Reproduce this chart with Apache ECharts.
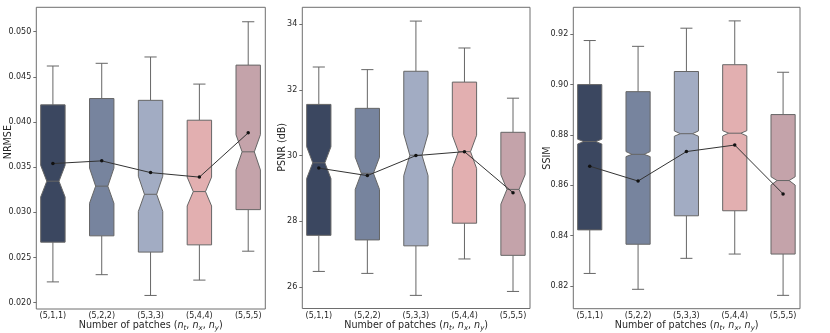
<!DOCTYPE html>
<html>
<head>
<meta charset="utf-8">
<script src="https://cdn.jsdelivr.net/npm/echarts@6/dist/echarts.min.js"></script>
<style>
html,body{margin:0;padding:0;background:#fff;}
#chart{width:830px;height:333px;}
</style>
</head>
<body>
<div id="chart"></div>
<script>
// ---------- data ----------
const categories = ['(5,1,1)', '(5,2,2)', '(5,3,3)', '(5,4,4)', '(5,5,5)'];
// each row: [whiskerLow, q1, notchLow, median, notchHigh, q3, whiskerHigh]
const nrmseStats = [
  [0.0223, 0.0267, 0.0317, 0.03345, 0.0352, 0.0419, 0.0462],
  [0.0231, 0.0274, 0.0310, 0.0329, 0.0349, 0.0426, 0.0465],
  [0.0208, 0.0256, 0.0301, 0.0320, 0.0340, 0.0424, 0.0472],
  [0.0225, 0.0264, 0.0307, 0.0323, 0.0339, 0.0402, 0.0442],
  [0.0257, 0.0303, 0.0347, 0.0367, 0.0386, 0.0463, 0.0511]
];
const nrmseMean = [0.0354, 0.0357, 0.0344, 0.0339, 0.0388];
const psnrStats = [
  [26.47, 27.57, 29.30, 29.78, 30.27, 31.56, 32.70],
  [26.41, 27.43, 28.97, 29.46, 29.95, 31.44, 32.62],
  [25.74, 27.25, 29.39, 30.01, 30.66, 32.57, 34.10],
  [26.85, 27.94, 29.61, 30.12, 30.62, 32.24, 33.28],
  [25.86, 26.96, 28.52, 28.97, 29.42, 30.71, 31.75]
];
const psnrMean = [29.62, 29.39, 30.00, 30.12, 28.87];
const ssimStats = [
  [0.8250, 0.8423, 0.8764, 0.8774, 0.8783, 0.9000, 0.9175],
  [0.8187, 0.8366, 0.8714, 0.8723, 0.8734, 0.8972, 0.9152],
  [0.8310, 0.8479, 0.8795, 0.8805, 0.8816, 0.9052, 0.9224],
  [0.8327, 0.8499, 0.8796, 0.8807, 0.8817, 0.9079, 0.9253],
  [0.8163, 0.8327, 0.8601, 0.8619, 0.8634, 0.8881, 0.9049]
];
const ssimMean = [0.8676, 0.8617, 0.8734, 0.8760, 0.8566];
const nrmseTicks = [0.020, 0.025, 0.030, 0.035, 0.040, 0.045, 0.050];
const psnrTicks = [26, 28, 30, 32, 34];
const ssimTicks = [0.82, 0.84, 0.86, 0.88, 0.90, 0.92];
const xTicks = [0, 1, 2, 3, 4];

// ---------- styles ----------
const boxColors = ['#3b4760', '#77849e', '#a2acc3', '#e2afb0', '#c4a3aa'];
const edgeColor = '#666666';
const textColor = '#262626';
const font = 'DejaVu Sans';

const chart = echarts.init(document.getElementById('chart'), null, {renderer: 'canvas'});

function renderBox(params, api) {
  const x = api.value(0);
  const lo = api.value(1), q1 = api.value(2), nlo = api.value(3), med = api.value(4),
        nhi = api.value(5), q3 = api.value(6), hi = api.value(7);
  const hw = 0.25, nw = 0.125, cw = 0.125;
  const P = (dx, v) => api.coord([x + dx, v]);
  const ls = {stroke: edgeColor, lineWidth: 1};
  const line = (a, b) => ({type: 'line', shape: {x1: a[0], y1: a[1], x2: b[0], y2: b[1]}, style: ls});
  const pts = [P(-hw, q1), P(-hw, nlo), P(-nw, med), P(-hw, nhi), P(-hw, q3),
               P(hw, q3), P(hw, nhi), P(nw, med), P(hw, nlo), P(hw, q1)];
  return {
    type: 'group',
    children: [
      line(P(0, q1), P(0, lo)),
      line(P(0, q3), P(0, hi)),
      line(P(-cw, lo), P(cw, lo)),
      line(P(-cw, hi), P(cw, hi)),
      {type: 'polygon', shape: {points: pts},
       style: {fill: boxColors[params.dataIndex], stroke: edgeColor, lineWidth: 1}},
      line(P(-nw, med), P(nw, med))
    ]
  };
}

const grids = [
  {left: 36.3, top: 7.3, width: 229, height: 301.7},
  {left: 302.3, top: 7.3, width: 227.7, height: 301.2},
  {left: 573.3, top: 7.3, width: 226.7, height: 301.4}
].map(g => Object.assign({show: true, borderColor: '#6e6e6e', borderWidth: 1, backgroundColor: '#fff',
  containLabel: false, outerBoundsMode: 'none'}, g));

const xName = '{a|Number of patches (}{i|n}{s|t}{a|, }{i|n}{s|x}{a|, }{i|n}{s|y}{a|)}';
const xRich = {
  a: {fontFamily: font, fontSize: 9.6, color: textColor},
  i: {fontFamily: font, fontSize: 9.6, fontStyle: 'italic', color: textColor},
  s: {fontFamily: font, fontSize: 7, fontStyle: 'italic', color: textColor, padding: [6, 0, 0, 0]}
};

const xAxes = [0, 1, 2].map(i => ({
  type: 'value', gridIndex: i, min: -0.34, max: 4.35,
  axisLine: {show: false, onZero: false}, axisTick: {show: false}, splitLine: {show: false},
  axisLabel: {customValues: xTicks, formatter: v => categories[Math.round(v)],
              fontFamily: font, fontSize: 8, color: textColor, margin: 3},
  name: xName, nameLocation: 'middle', nameGap: 10, nameMoveOverlap: false,
  nameTextStyle: {rich: xRich}
}));

const yCfg = [
  {ticks: nrmseTicks, min: 0.0193, max: 0.0527, fmt: v => v.toFixed(3), name: 'NRMSE', gap: 23, pad: [0, 0, 0, 32]},
  {ticks: psnrTicks, min: 25.34, max: 34.52, fmt: v => String(Math.round(v)), name: 'PSNR (dB)', gap: 15, pad: [0, 0, 0, 21]},
  {ticks: ssimTicks, min: 0.811, max: 0.9307, fmt: v => v.toFixed(2), name: 'SSIM', gap: 20.5, pad: [0, 0, 0, 0]}
];
const yAxes = yCfg.map((c, i) => ({
  type: 'value', gridIndex: i, min: c.min, max: c.max,
  axisLine: {show: false, onZero: false}, splitLine: {show: false},
  axisTick: {show: true, inside: false, customValues: c.ticks, length: 3, lineStyle: {color: '#6e6e6e'}},
  axisLabel: {customValues: c.ticks, formatter: c.fmt, fontFamily: font, fontSize: 8, color: textColor, margin: 5},
  name: c.name, nameLocation: 'middle', nameGap: c.gap, nameMoveOverlap: false,
  nameTextStyle: {fontFamily: font, fontSize: 9.6, color: textColor, padding: c.pad}
}));

const allStats = [nrmseStats, psnrStats, ssimStats];
const allMeans = [nrmseMean, psnrMean, ssimMean];
const series = [];
allStats.forEach((stats, i) => {
  series.push({
    type: 'custom', xAxisIndex: i, yAxisIndex: i, z: 2,
    renderItem: renderBox,
    encode: {x: 0, y: [1, 2, 3, 4, 5, 6, 7]},
    data: stats.map((s, k) => [xTicks[k]].concat(s))
  });
  series.push({
    type: 'line', xAxisIndex: i, yAxisIndex: i, z: 5,
    data: allMeans[i].map((m, k) => [xTicks[k], m]),
    symbol: 'circle', symbolSize: 3.5, showSymbol: true,
    itemStyle: {color: '#111'},
    lineStyle: {color: '#333', width: 1},
    animation: false
  });
});

chart.setOption({
  animation: false,
  grid: grids,
  xAxis: xAxes,
  yAxis: yAxes,
  series: series
});
</script>
</body>
</html>
